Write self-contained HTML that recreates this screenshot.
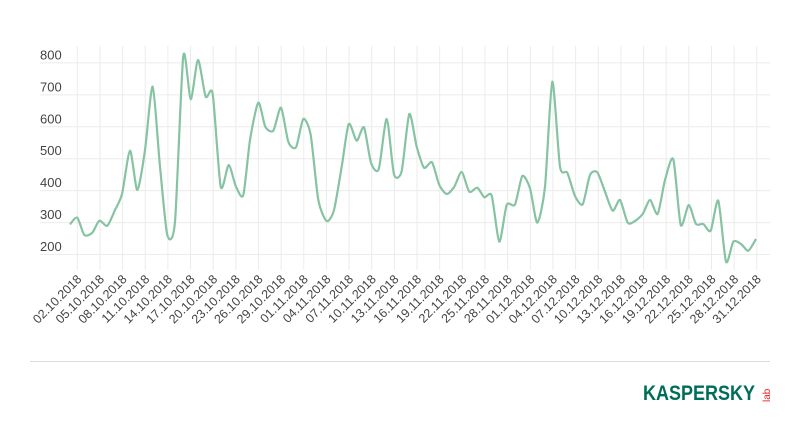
<!DOCTYPE html>
<html><head><meta charset="utf-8"><style>
body{margin:0;background:#fff;width:800px;height:428px;overflow:hidden}
svg{display:block}
text{font-family:"Liberation Sans",sans-serif}
</style></head><body>
<svg width="800" height="428" viewBox="0 0 800 428">
<g id="grid" stroke="#ececec" stroke-width="1"></g>
<g id="ylab" fill="#444" font-size="13"></g>
<g id="xlab" fill="#444" font-size="12.5"></g>
<path id="line" fill="none" stroke="#86c3a3" stroke-width="2.2" stroke-linejoin="round"/>
<line x1="30" y1="361.5" x2="770" y2="361.5" stroke="#dcdcdc" stroke-width="1"/>
<text x="643" y="400" font-size="21" font-weight="bold" fill="#006d5b" textLength="112" lengthAdjust="spacingAndGlyphs">KASPERSKY</text>
<text transform="translate(770,402) rotate(-90)" font-size="10" fill="#e8201f">lab</text>
</svg>
<script>
var ns="http://www.w3.org/2000/svg";
function el(p,t,a,txt){var e=document.createElementNS(ns,t);for(var k in a)e.setAttribute(k,a[k]);if(txt)e.textContent=txt;p.appendChild(e);return e;}
var g=document.getElementById('grid'),yl=document.getElementById('ylab'),xl=document.getElementById('xlab');
for(var v=200;v<=800;v+=100){var y=254-(v-200)*0.3193;el(g,'line',{x1:40,x2:770,y1:y+.5,y2:y+.5});el(yl,'text',{x:40,y:y-3},String(v));}
var dates=["02.10","05.10","08.10","11.10","14.10","17.10","20.10","23.10","26.10","29.10","01.11","04.11","07.11","10.11","13.11","16.11","19.11","22.11","25.11","28.11","01.12","04.12","07.12","10.12","13.12","16.12","19.12","22.12","25.12","28.12","31.12"];
for(var k=0;k<31;k++){var x=77.3+22.65*k;el(g,'line',{x1:x,x2:x,y1:46,y2:270});
el(xl,'text',{transform:'translate('+(x+5)+',280) rotate(-45)','text-anchor':'end'},dates[k]+'.2018');}
var P=[[70,224.3],[77.3,217.7],[84.3,235],[92.3,232.7],[99.3,220.7],[107.3,225.7],[115,210],[122,194],[130,150.7],[137.3,190],[145,150],[152.7,86.7],[160,166.7],[167.3,235],[175,221.7],[183.3,56],[190.7,99.3],[198,60],[205.7,96.7],[212.7,94],[220.7,186.7],[228.7,165],[236,186.7],[243.3,195],[250,140],[258.3,102.7],[265.3,126.7],[273.3,130.7],[281,107.7],[288.3,141.7],[296,147.3],[303.3,119],[310.7,135],[318.3,200],[326.7,221],[334,210],[341.7,166.7],[348.7,124],[356.7,140.7],[364,127.3],[371,162.7],[378.7,169.3],[386.7,119],[394,174.3],[401.7,171],[409.3,114],[416.7,146.7],[424,167.7],[432,162.3],[439.3,185],[446.7,194],[454.3,186.7],[461.7,172],[469.3,191.7],[477.3,187.7],[484.3,197.3],[491.7,195.7],[499.3,241.7],[506.7,205],[515,204.5],[522.3,176],[530,188.3],[537.3,222.7],[545,186.7],[552.3,81.7],[560,166.7],[567.3,172.7],[575,196],[582.7,204.3],[590,175],[597.3,172.3],[605,191.7],[612.7,210.7],[620,200],[627.7,222.7],[635,221],[642.7,214],[650,200],[657.7,214],[665,180],[673.3,159.3],[680.7,225],[688.7,205],[696,224],[703.3,224],[710.7,230.7],[718.3,200.7],[726,261.7],[733.3,241.7],[741,244],[748.3,250.7],[756,239]];
var d="M"+P[0][0]+","+P[0][1];
for(var i=0;i<P.length-1;i++){var p0=P[Math.max(i-1,0)],p1=P[i],p2=P[i+1],p3=P[Math.min(i+2,P.length-1)];var t=0.12;
d+=" C"+(p1[0]+(p2[0]-p0[0])*t).toFixed(1)+","+(p1[1]+(p2[1]-p0[1])*t).toFixed(1)+" "+(p2[0]-(p3[0]-p1[0])*t).toFixed(1)+","+(p2[1]-(p3[1]-p1[1])*t).toFixed(1)+" "+p2[0]+","+p2[1];}
document.getElementById('line').setAttribute('d',d);
</script>
</body></html>
